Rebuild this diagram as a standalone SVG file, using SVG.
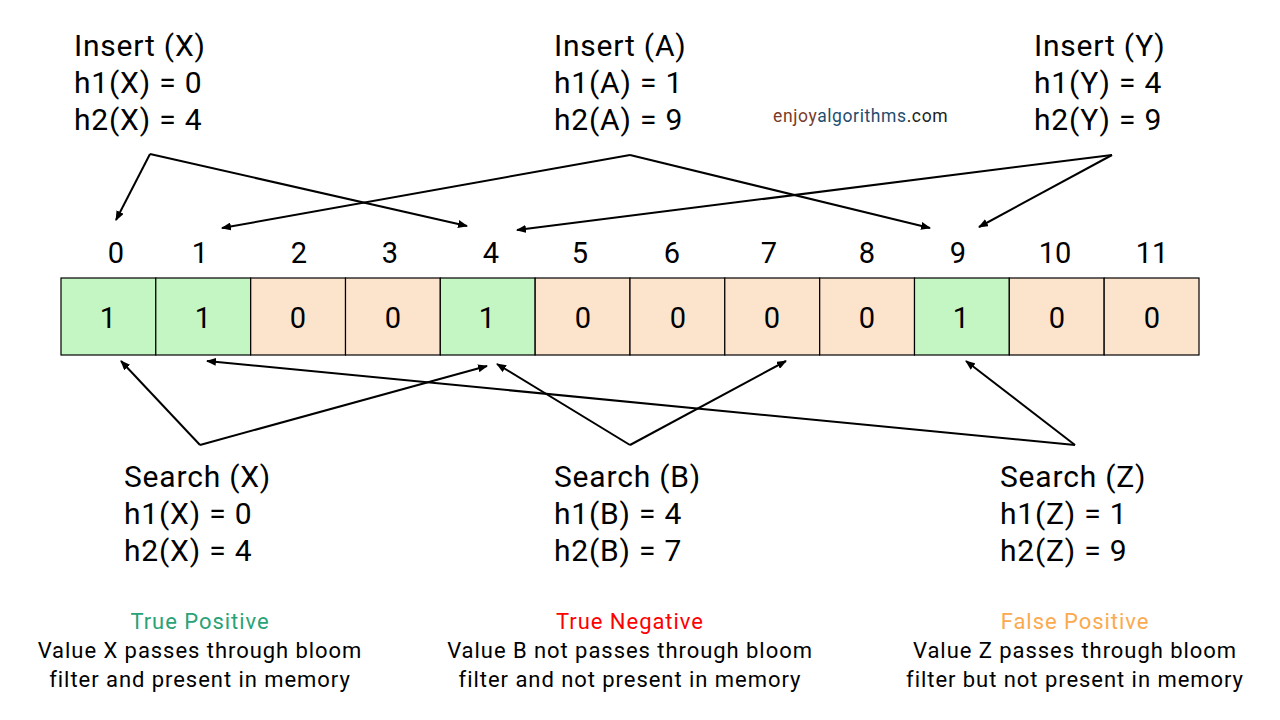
<svg xmlns="http://www.w3.org/2000/svg" width="1280" height="720" viewBox="0 0 1280 720">
<defs>
<marker id="ah" markerWidth="10" markerHeight="8" refX="9" refY="4" orient="auto" markerUnits="userSpaceOnUse" viewBox="0 0 10 8">
<path d="M0,0 L10,4 L0,8 z" fill="#000"/>
</marker>
<style>
text{font-family:Roboto,"Liberation Sans",sans-serif;fill:#000}
.lbl{font-size:30px;letter-spacing:0.8px}
.idx{font-size:29px;text-anchor:middle}
.val{font-size:29px;text-anchor:middle}
.one{fill:#c3f6c3;stroke:#000;stroke-width:1.2}
.zero{fill:#fce4cc;stroke:#000;stroke-width:1.2}
.cap{font-size:22px;text-anchor:middle;letter-spacing:0.95px}
.conn{fill:none;stroke:#000;stroke-width:2;marker-end:url(#ah)}
</style>
</defs>
<rect width="1280" height="720" fill="#fff"/>

<g id="insert-x"><text class="lbl" x="74" y="56">Insert (X)</text><text class="lbl" x="74" y="93">h1(X) = 0</text><text class="lbl" x="74" y="130">h2(X) = 4</text></g>
<g id="insert-a"><text class="lbl" x="554" y="56">Insert (A)</text><text class="lbl" x="554" y="93">h1(A) = 1</text><text class="lbl" x="554" y="130">h2(A) = 9</text></g>
<g id="insert-y"><text class="lbl" x="1034" y="56">Insert (Y)</text><text class="lbl" x="1034" y="93">h1(Y) = 4</text><text class="lbl" x="1034" y="130">h2(Y) = 9</text></g>

<g id="watermark"><text x="773" y="122" style="font-size:17.5px;letter-spacing:0.6px"><tspan fill="#7b3b2a">enjoy</tspan><tspan fill="#1f4d6e">algorithms</tspan><tspan fill="#222">.com</tspan></text></g>

<g id="indices">
<text class="idx" x="116" y="263">0</text><text class="idx" x="200" y="263">1</text><text class="idx" x="299" y="263">2</text><text class="idx" x="390" y="263">3</text><text class="idx" x="491" y="263">4</text><text class="idx" x="580" y="263">5</text><text class="idx" x="672" y="263">6</text><text class="idx" x="769" y="263">7</text><text class="idx" x="867" y="263">8</text><text class="idx" x="958" y="263">9</text><text class="idx" x="1055" y="263">10</text><text class="idx" x="1152" y="263">11</text>
</g>

<g id="array">
<g id="cell0"><rect class="one" x="61" y="278" width="94.8" height="77"/><text class="val" x="108" y="328">1</text></g>
<g id="cell1"><rect class="one" x="155.8" y="278" width="94.8" height="77"/><text class="val" x="203" y="328">1</text></g>
<g id="cell2"><rect class="zero" x="250.7" y="278" width="94.8" height="77"/><text class="val" x="298" y="328">0</text></g>
<g id="cell3"><rect class="zero" x="345.5" y="278" width="94.8" height="77"/><text class="val" x="393" y="328">0</text></g>
<g id="cell4"><rect class="one" x="440.3" y="278" width="94.8" height="77"/><text class="val" x="487" y="328">1</text></g>
<g id="cell5"><rect class="zero" x="535.2" y="278" width="94.8" height="77"/><text class="val" x="583" y="328">0</text></g>
<g id="cell6"><rect class="zero" x="630" y="278" width="94.8" height="77"/><text class="val" x="678" y="328">0</text></g>
<g id="cell7"><rect class="zero" x="724.8" y="278" width="94.8" height="77"/><text class="val" x="772" y="328">0</text></g>
<g id="cell8"><rect class="zero" x="819.7" y="278" width="94.8" height="77"/><text class="val" x="867" y="328">0</text></g>
<g id="cell9"><rect class="one" x="914.5" y="278" width="94.8" height="77"/><text class="val" x="961" y="328">1</text></g>
<g id="cell10"><rect class="zero" x="1009.3" y="278" width="94.8" height="77"/><text class="val" x="1057" y="328">0</text></g>
<g id="cell11"><rect class="zero" x="1104.2" y="278" width="94.8" height="77"/><text class="val" x="1152" y="328">0</text></g>
</g>

<g id="search-x"><text class="lbl" x="124" y="487">Search (X)</text><text class="lbl" x="124" y="524">h1(X) = 0</text><text class="lbl" x="124" y="561">h2(X) = 4</text></g>
<g id="search-b"><text class="lbl" x="554" y="487">Search (B)</text><text class="lbl" x="554" y="524">h1(B) = 4</text><text class="lbl" x="554" y="561">h2(B) = 7</text></g>
<g id="search-z"><text class="lbl" x="1000" y="487">Search (Z)</text><text class="lbl" x="1000" y="524">h1(Z) = 1</text><text class="lbl" x="1000" y="561">h2(Z) = 9</text></g>

<g id="cap-tp"><text class="cap" x="200" y="629" style="fill:#2aa277">True Positive</text><text class="cap" x="200" y="658">Value X passes through bloom</text><text class="cap" x="200" y="687">filter and present in memory</text></g>
<g id="cap-tn"><text class="cap" x="630" y="629" style="fill:#ff0000">True Negative</text><text class="cap" x="630" y="658">Value B not passes through bloom</text><text class="cap" x="630" y="687">filter and not present in memory</text></g>
<g id="cap-fp"><text class="cap" x="1075" y="629" style="fill:#fbaa4f">False Positive</text><text class="cap" x="1075" y="658">Value Z passes through bloom</text><text class="cap" x="1075" y="687">filter but not present in memory</text></g>

<g id="connectors">
<polyline class="conn" points="150,154 116,220"/>
<polyline class="conn" points="150,154 467,226"/>
<polyline class="conn" points="630,155 222,228"/>
<polyline class="conn" points="630,155 930,228"/>
<polyline class="conn" points="1112,155 979,227"/>
<polyline class="conn" points="1112,155 517,230"/>
<polyline class="conn" points="200,445 121,361"/>
<polyline class="conn" points="200,445 487,366"/>
<polyline class="conn" points="630,445 497,364"/>
<polyline class="conn" points="630,445 786,361"/>
<polyline class="conn" points="1075,445 207,361"/>
<polyline class="conn" points="1075,445 966,361"/>
</g>
</svg>
